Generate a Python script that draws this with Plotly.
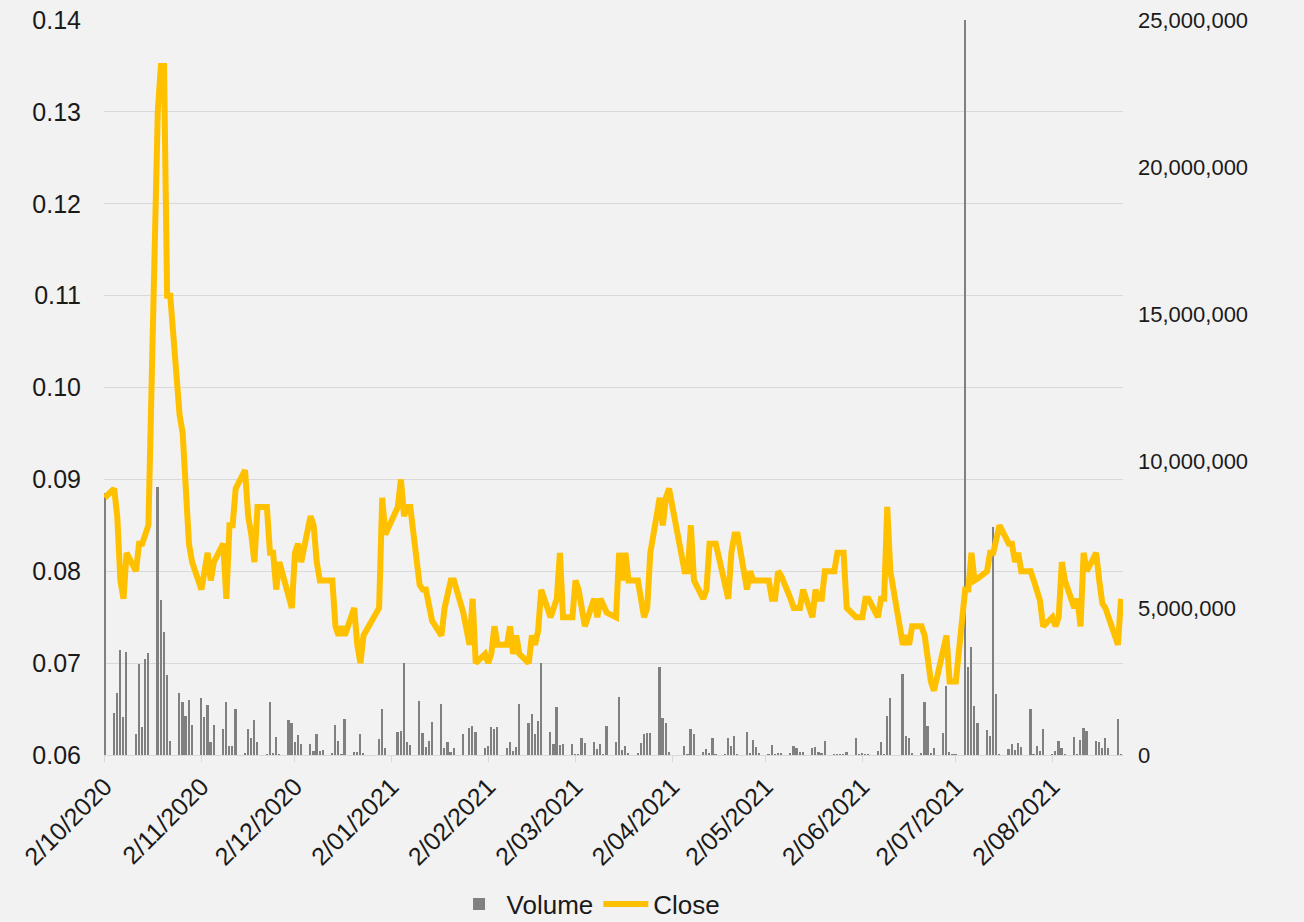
import plotly.graph_objects as go

# ---------------- data ----------------
dates = [
    "2020-10-02", "2020-10-05", "2020-10-06", "2020-10-07", "2020-10-08", "2020-10-09",
    "2020-10-12", "2020-10-13", "2020-10-14", "2020-10-15", "2020-10-16",
    "2020-10-19", "2020-10-20", "2020-10-21", "2020-10-22", "2020-10-23",
    "2020-10-26", "2020-10-27", "2020-10-28", "2020-10-29", "2020-10-30",
    "2020-11-02", "2020-11-03", "2020-11-04", "2020-11-05", "2020-11-06",
    "2020-11-09", "2020-11-10", "2020-11-11", "2020-11-12", "2020-11-13",
    "2020-11-16", "2020-11-17", "2020-11-18", "2020-11-19", "2020-11-20",
    "2020-11-23", "2020-11-24", "2020-11-25", "2020-11-26", "2020-11-27",
    "2020-11-30", "2020-12-01", "2020-12-02", "2020-12-03", "2020-12-04",
    "2020-12-07", "2020-12-08", "2020-12-09", "2020-12-10", "2020-12-11",
    "2020-12-14", "2020-12-15", "2020-12-16", "2020-12-17", "2020-12-18",
    "2020-12-21", "2020-12-22", "2020-12-23", "2020-12-24",
    "2020-12-29", "2020-12-30", "2020-12-31",
    "2021-01-04", "2021-01-05", "2021-01-06", "2021-01-07", "2021-01-08",
    "2021-01-11", "2021-01-12", "2021-01-13", "2021-01-14", "2021-01-15",
    "2021-01-18", "2021-01-19", "2021-01-20", "2021-01-21", "2021-01-22",
    "2021-01-25", "2021-01-27", "2021-01-28", "2021-01-29",
    "2021-02-01", "2021-02-02", "2021-02-03", "2021-02-04", "2021-02-05",
    "2021-02-08", "2021-02-09", "2021-02-10", "2021-02-11", "2021-02-12",
    "2021-02-15", "2021-02-16", "2021-02-17", "2021-02-18", "2021-02-19",
    "2021-02-22", "2021-02-23", "2021-02-24", "2021-02-25", "2021-02-26",
    "2021-03-01", "2021-03-02", "2021-03-03", "2021-03-04", "2021-03-05",
    "2021-03-08", "2021-03-09", "2021-03-10", "2021-03-11", "2021-03-12",
    "2021-03-15", "2021-03-16", "2021-03-17", "2021-03-18", "2021-03-19",
    "2021-03-22", "2021-03-23", "2021-03-24", "2021-03-25", "2021-03-26",
    "2021-03-29", "2021-03-30", "2021-03-31", "2021-04-01",
    "2021-04-06", "2021-04-07", "2021-04-08", "2021-04-09",
    "2021-04-12", "2021-04-13", "2021-04-14", "2021-04-15", "2021-04-16",
    "2021-04-19", "2021-04-20", "2021-04-21", "2021-04-22", "2021-04-23",
    "2021-04-26", "2021-04-27", "2021-04-28", "2021-04-29", "2021-04-30",
    "2021-05-03", "2021-05-04", "2021-05-05", "2021-05-06", "2021-05-07",
    "2021-05-10", "2021-05-11", "2021-05-12", "2021-05-13", "2021-05-14",
    "2021-05-17", "2021-05-18", "2021-05-19", "2021-05-20", "2021-05-21",
    "2021-05-24", "2021-05-25", "2021-05-26", "2021-05-27", "2021-05-28",
    "2021-05-31", "2021-06-01", "2021-06-02", "2021-06-03", "2021-06-04",
    "2021-06-07", "2021-06-08", "2021-06-09", "2021-06-10", "2021-06-11",
    "2021-06-15", "2021-06-16", "2021-06-17", "2021-06-18",
    "2021-06-21", "2021-06-22", "2021-06-23", "2021-06-24", "2021-06-25",
    "2021-06-28", "2021-06-29", "2021-06-30", "2021-07-01", "2021-07-02",
    "2021-07-05", "2021-07-06", "2021-07-07", "2021-07-08", "2021-07-09",
    "2021-07-12", "2021-07-13", "2021-07-14", "2021-07-15", "2021-07-16",
    "2021-07-19", "2021-07-20", "2021-07-21", "2021-07-22", "2021-07-23",
    "2021-07-26", "2021-07-27", "2021-07-28", "2021-07-29", "2021-07-30",
    "2021-08-02", "2021-08-03", "2021-08-04", "2021-08-05", "2021-08-06",
    "2021-08-09", "2021-08-10", "2021-08-11", "2021-08-12", "2021-08-13",
    "2021-08-16", "2021-08-17", "2021-08-18", "2021-08-19", "2021-08-20",
    "2021-08-23", "2021-08-24",
]

close = [
    0.088, 0.089, 0.086, 0.079, 0.077, 0.082,
    0.080, 0.083, 0.083, 0.084, 0.085,
    0.130, 0.135, 0.135, 0.110, 0.110,
    0.097, 0.095, 0.089, 0.083, 0.081,
    0.078, 0.080, 0.082, 0.079, 0.081,
    0.083, 0.077, 0.085, 0.085, 0.089,
    0.091, 0.086, 0.084, 0.081, 0.087,
    0.087, 0.082, 0.082, 0.078, 0.081,
    0.0775, 0.076, 0.082, 0.083, 0.081,
    0.086, 0.085, 0.081, 0.079, 0.079,
    0.079, 0.074, 0.073, 0.074, 0.073,
    0.076, 0.072, 0.070, 0.073,
    0.076, 0.088, 0.084,
    0.087, 0.090, 0.086, 0.087, 0.087,
    0.0785, 0.078, 0.078, 0.076, 0.0746,
    0.073, 0.076, 0.0775, 0.079, 0.079,
    0.0755, 0.072, 0.077, 0.070,
    0.071, 0.070, 0.071, 0.074, 0.072,
    0.072, 0.074, 0.071, 0.073, 0.071,
    0.070, 0.073, 0.072, 0.0735, 0.078,
    0.075, 0.076, 0.077, 0.082, 0.075,
    0.075, 0.079, 0.078, 0.076, 0.074,
    0.077, 0.075, 0.077, 0.076, 0.0755,
    0.075, 0.082, 0.079, 0.082, 0.079,
    0.079, 0.077, 0.075, 0.076, 0.082,
    0.088, 0.085, 0.088, 0.089,
    0.080, 0.080, 0.085, 0.079,
    0.077, 0.078, 0.083, 0.083, 0.083,
    0.0785, 0.077, 0.082, 0.084, 0.084,
    0.078, 0.080, 0.079, 0.079, 0.079,
    0.079, 0.077, 0.077, 0.080, 0.0795,
    0.077, 0.076, 0.076, 0.076, 0.078,
    0.075, 0.078, 0.077, 0.077, 0.080,
    0.080, 0.082, 0.082, 0.082, 0.076,
    0.075, 0.075, 0.075, 0.077, 0.077,
    0.075, 0.077, 0.077, 0.087, 0.080,
    0.072, 0.073, 0.072, 0.074,
    0.074, 0.073, 0.070, 0.068, 0.067,
    0.072, 0.073, 0.068, 0.068, 0.068,
    0.078, 0.078, 0.082, 0.079, 0.0792,
    0.080, 0.082, 0.082, 0.0835, 0.085,
    0.083, 0.083, 0.081, 0.082, 0.080,
    0.080, 0.079, 0.0778, 0.0768, 0.074,
    0.075, 0.074, 0.075, 0.081, 0.079,
    0.076, 0.077, 0.074, 0.082, 0.080,
    0.082, 0.079, 0.0765, 0.076, 0.075,
    0.072, 0.077,
]

volume = [
    8900000, 1430000, 2120000, 3570000, 1280000, 3500000,
    720000, 3100000, 960000, 3260000, 3460000,
    9100000, 5270000, 4180000, 2720000, 490000,
    2100000, 1790000, 1320000, 1880000, 1020000,
    1940000, 1300000, 1700000, 430000, 1020000,
    900000, 1810000, 310000, 310000, 1580000,
    50000, 900000, 580000, 1200000, 440000,
    20000, 1810000, 70000, 610000, 20000,
    1200000, 1090000, 440000, 670000, 360000,
    360000, 150000, 730000, 120000, 160000,
    60000, 1010000, 470000, 20000, 1210000,
    110000, 110000, 730000, 50000,
    550000, 1580000, 240000,
    770000, 800000, 3140000, 440000, 340000,
    1840000, 760000, 280000, 480000, 1130000,
    1720000, 230000, 450000, 110000, 230000,
    700000, 910000, 990000, 770000,
    230000, 310000, 960000, 870000, 940000,
    230000, 450000, 150000, 280000, 1720000,
    1080000, 1380000, 710000, 1160000, 3120000,
    790000, 370000, 1640000, 340000, 360000,
    370000, 20000, 20000, 590000, 420000,
    440000, 190000, 370000, 20000, 990000,
    440000, 1960000, 170000, 310000, 80000,
    60000, 400000, 700000, 740000, 760000,
    2980000, 1250000, 1100000, 110000,
    310000, 20000, 870000, 700000,
    110000, 190000, 80000, 570000, 30000,
    30000, 570000, 310000, 640000, 20000,
    790000, 50000, 510000, 260000, 50000,
    20000, 340000, 20000, 50000, 50000,
    50000, 310000, 230000, 110000, 110000,
    230000, 260000, 110000, 50000, 480000,
    20000, 20000, 20000, 20000, 90000,
    590000, 20000, 50000, 20000, 20000,
    150000, 430000, 20000, 1330000, 1930000,
    2740000, 650000, 590000, 50000,
    50000, 1790000, 1000000, 50000, 230000,
    740000, 2350000, 110000, 20000, 20000,
    26000000, 3000000, 3690000, 1680000, 1080000,
    850000, 650000, 7750000, 2060000, 30000,
    200000, 370000, 170000, 420000, 260000,
    1560000, 30000, 310000, 150000, 880000,
    20000, 150000, 480000, 230000, 20000,
    600000, 20000, 510000, 930000, 830000,
    460000, 450000, 230000, 590000, 230000,
    1210000, 30000,
]

tick_dates = [
    "2020-10-02", "2020-11-02", "2020-12-02", "2021-01-02", "2021-02-02",
    "2021-03-02", "2021-04-02", "2021-05-02", "2021-06-02", "2021-07-02",
    "2021-08-02",
]

close_ticks = [0.06, 0.07, 0.08, 0.09, 0.10, 0.11, 0.12, 0.13, 0.14]
volume_ticks = [0, 5000000, 10000000, 15000000, 20000000, 25000000]

# ---------------- figure ----------------
FONT = "Liberation Sans, Arial, sans-serif"
TXT = "#1a1a1a"
GRID = "#D9D9D9"
BG = "#F2F2F2"

fig = go.Figure()

fig.add_trace(go.Bar(
    x=dates, y=volume, name="Volume",
    marker=dict(color="#808080", line=dict(width=0)),
    width=0.55 * 86400000,
    yaxis="y",
))

fig.add_trace(go.Scatter(
    x=dates, y=close, name="Close", mode="lines",
    line=dict(color="#FFC000", width=6),
    yaxis="y2",
))

fig.update_layout(
    width=1304, height=922,
    margin=dict(l=104, r=181, t=20, b=167, autoexpand=False),
    paper_bgcolor=BG, plot_bgcolor=BG,
    font=dict(family=FONT, size=22, color=TXT),
    showlegend=True,
    legend=dict(
        orientation="h", x=0.4755, xanchor="center", y=-0.203, yanchor="middle",
        font=dict(family=FONT, size=26, color=TXT),
        bgcolor="rgba(0,0,0,0)", tracegroupgap=0, itemwidth=45,
    ),
    bargap=0,
    xaxis=dict(
        type="date",
        range=["2020-10-01 18:00", "2021-08-24 15:00"],
        tickvals=tick_dates,
        tickformat="%-d/%m/%Y",
        tickangle=-45,
        ticks="outside", ticklen=6, tickcolor=GRID, tickwidth=1,
        showline=True, linecolor=GRID, linewidth=1,
        showgrid=False, zeroline=False,
        tickfont=dict(family=FONT, size=25, color=TXT),
    ),
    yaxis=dict(
        side="right",
        range=[0, 25000000],
        tickvals=volume_ticks,
        tickformat=",",
        showgrid=False, zeroline=False, showline=False,
        ticks="", ticklabelstandoff=14,
        tickfont=dict(family=FONT, size=22, color=TXT),
    ),
    yaxis2=dict(
        side="left", overlaying="y",
        range=[0.06, 0.14],
        tickvals=close_ticks,
        tickformat=".2f",
        showgrid=True, gridcolor=GRID, gridwidth=1,
        zeroline=False, showline=False,
        ticks="", ticklabelstandoff=22,
        tickfont=dict(family=FONT, size=25, color=TXT),
    ),
    hovermode=False,
)

fig.write_html(
    "out.html",
    config={"displayModeBar": False},
    post_script="document.body.style.margin='0';",
)
